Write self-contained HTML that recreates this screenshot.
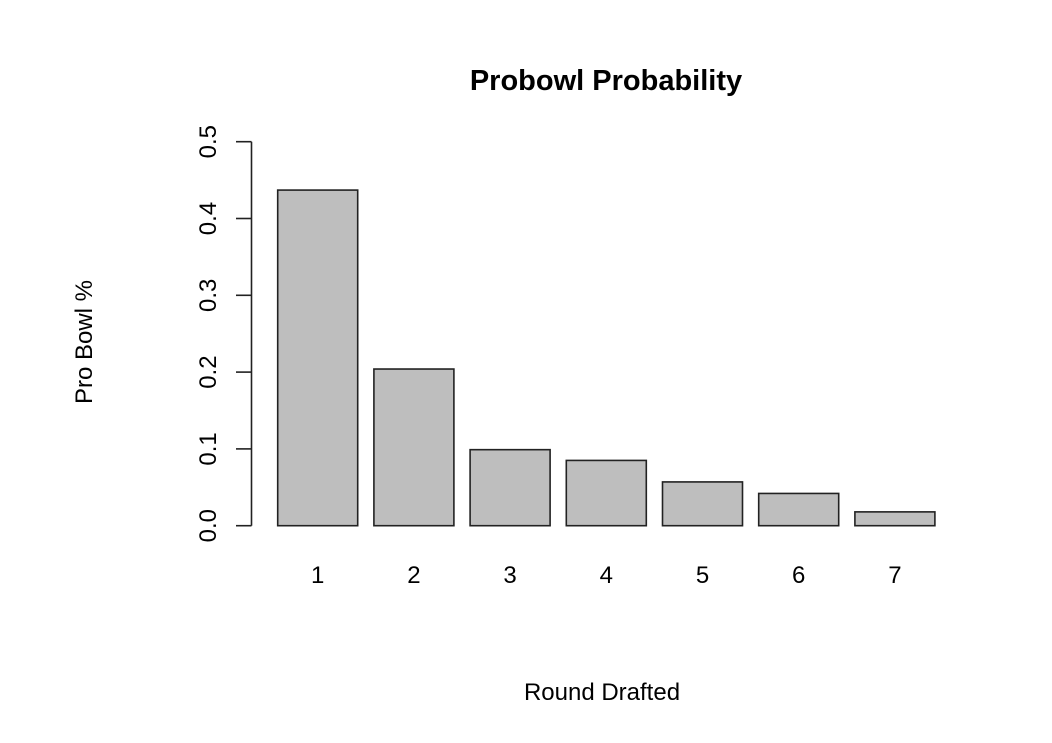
<!DOCTYPE html>
<html><head><meta charset="utf-8"><style>
body{margin:0;background:#fff}
svg text{font-family:"Liberation Sans",sans-serif;fill:#000}
</style></head><body>
<svg id="chart" width="1052" height="738">
<text x="606" y="90" font-size="29" font-weight="bold" text-anchor="middle">Probowl Probability</text>
<text x="602" y="700" font-size="24" text-anchor="middle">Round Drafted</text>
<text transform="translate(92,342) rotate(-90)" font-size="24" text-anchor="middle">Pro Bowl %</text>
<g id="yaxis"></g>
<g id="bars"></g>
<g id="xlabels"></g>
</svg>
<script>
const categories = ["1","2","3","4","5","6","7"];
const values = [0.437, 0.204, 0.099, 0.085, 0.057, 0.042, 0.018];
const yTicks = [0, 0.1, 0.2, 0.3, 0.4, 0.5];
const yTickLabels = ["0.0","0.1","0.2","0.3","0.4","0.5"];
const NS="http://www.w3.org/2000/svg";
const y0=525.7, ppu=768;
function yScale(v){return y0 - v*ppu;}
function xScale(i){return 277.7 + i*96.2;}
const barW=80;
function mk(t,a){const e=document.createElementNS(NS,t);for(const k in a)e.setAttribute(k,a[k]);return e;}
const ya=document.getElementById('yaxis');
const axLine=mk('line',{x1:251.5,x2:251.5,y1:yScale(yTicks[0]),y2:yScale(yTicks[yTicks.length-1]),stroke:'#222','stroke-width':1.6});


ya.appendChild(axLine);
yTicks.forEach((v,i)=>{
  const y=yScale(v);
  const t=mk('line',{x1:236,x2:251.5,y1:y,y2:y,stroke:'#222','stroke-width':1.6});
  
  
  ya.appendChild(t);
  const l=mk('text',{transform:`translate(216,${y}) rotate(-90)`,'font-size':24,'text-anchor':'middle'});
  
  
  l.textContent=yTickLabels[i];
  ya.appendChild(l);
});
const bg=document.getElementById('bars'), xl=document.getElementById('xlabels');
values.forEach((v,i)=>{
  const x=xScale(i), y=yScale(v);
  const r=mk('rect',{x:x,y:y,width:barW,height:y0-y,fill:'#bebebe',stroke:'#222','stroke-width':1.6});
  
  
  bg.appendChild(r);
  const t=mk('text',{x:x+barW/2,y:583,'font-size':24,'text-anchor':'middle'});
  
  
  t.textContent=categories[i];
  xl.appendChild(t);
});
</script>
</body></html>
